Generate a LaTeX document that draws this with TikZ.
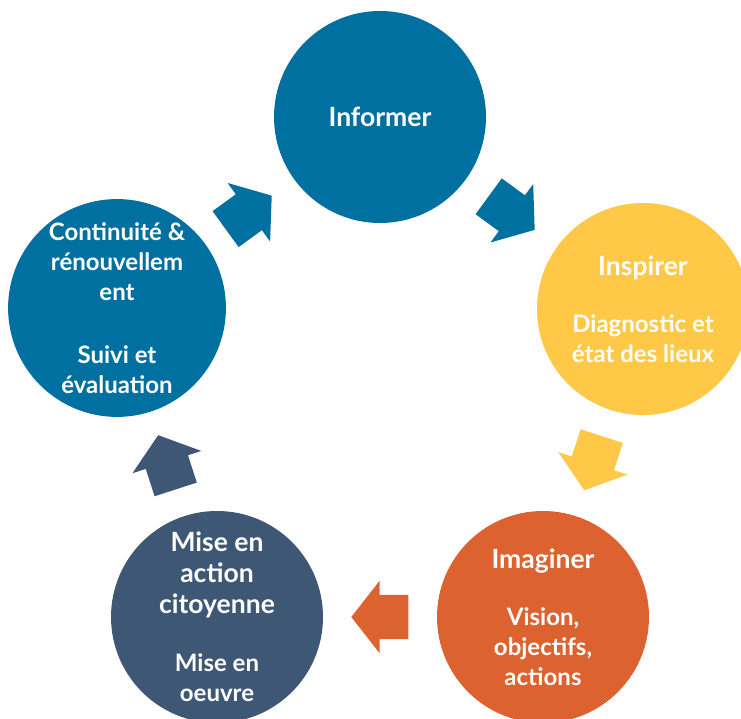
\documentclass[tikz,border=0pt]{standalone}
\usepackage{fontspec}
\setmainfont{Lato}
\usetikzlibrary{shapes.arrows,calc}
\definecolor{informblue}{RGB}{0,112,160}
\definecolor{inspireyellow}{RGB}{255,200,70}
\definecolor{imagineorange}{RGB}{220,98,48}
\definecolor{actionslate}{RGB}{62,87,117}
\tikzset{
  stage/.style={circle, minimum size=212pt, inner sep=0pt, text=white,
    align=center, font=\bfseries\fontsize{24}{30}\selectfont},
  flow/.style={single arrow, minimum height=57pt, inner xsep=0pt, inner ysep=22pt,
    single arrow head extend=14pt, single arrow tip angle=104, anchor=tail}
}
\newcommand{\titlesize}{\fontsize{26.5}{31}\selectfont}
\newcommand{\flowarrow}[3]{%
  \path let \p1=($(#2)-(#1)$), \n1={atan2(\y1,\x1)} in
    node[flow, fill=#3, rotate=\n1] at ($(#1)!0.5!(#2)!28.5pt!(#1)$) {};}
\begin{document}
\begin{tikzpicture}[x=1pt,y=1pt]
        \useasboundingbox (0,0) rectangle (741,719);
        \node[stage, fill=informblue] (1) at (380,602) {\titlesize Informer};
        \node[stage, fill=inspireyellow] (2) at (643,410) {{\titlesize Inspirer}\\[27pt]Diagnostic et\\état des lieux};
        \node[stage, fill=imagineorange] (3) at (543,102) {{\titlesize Imaginer}\\[27pt]Vision,\\objectifs,\\actions};
        \node[stage, fill=actionslate] (4) at (217,102) {{\titlesize Mise en}\\[1pt]{\titlesize action}\\[1pt]{\titlesize citoyenne}\\[28pt]Mise en\\oeuvre};
        \node[stage, fill=informblue] (5) at (117,411) {Continuité \&\\rénouvellem\\ent\\[33pt]Suivi et\\évaluation};

        \flowarrow{5}{1}{informblue}
        \flowarrow{1}{2}{informblue}
        \flowarrow{2}{3}{inspireyellow}
        \flowarrow{3}{4}{imagineorange}
        \flowarrow{4}{5}{actionslate}
\end{tikzpicture}
\end{document}
